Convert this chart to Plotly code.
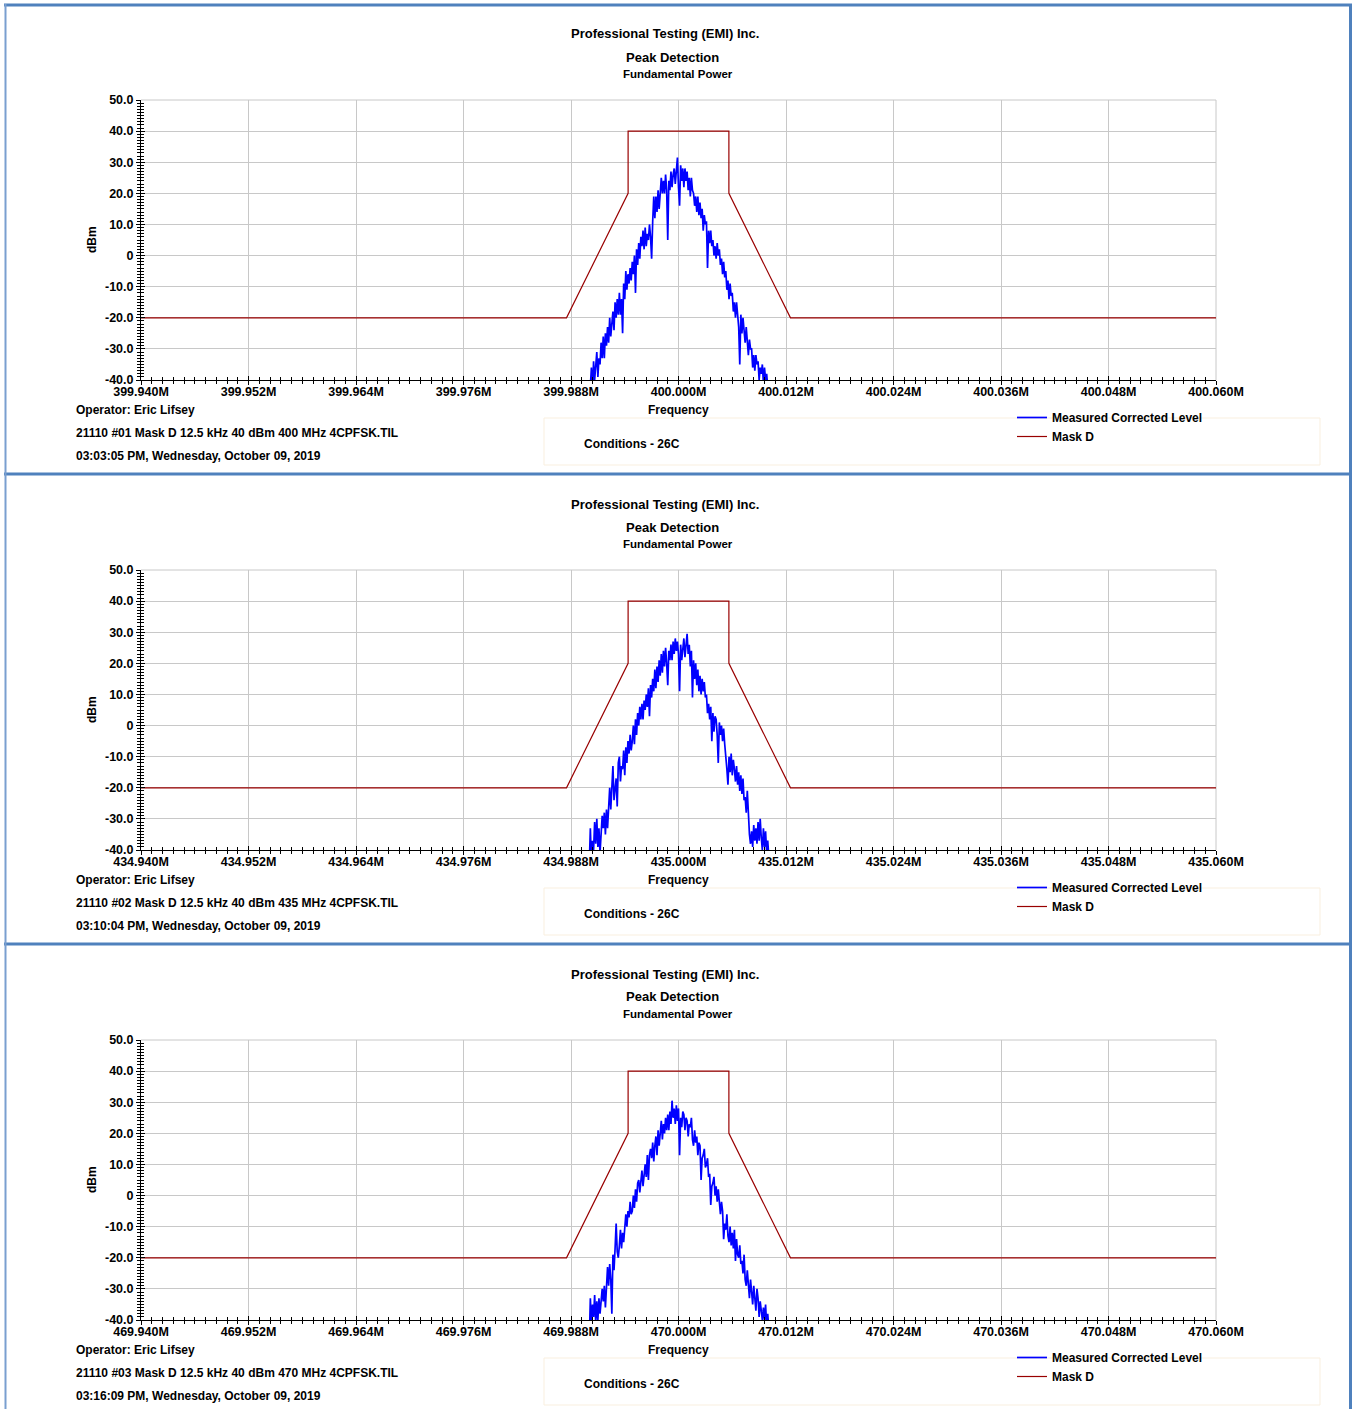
import plotly.graph_objects as go

W, H = 1353, 1409
PANEL_H = 470
FONT = "Liberation Sans, Arial, Helvetica, sans-serif"

# ---------------- data ----------------
center_mhz = [400.000, 435.000, 470.000]
trace_start_khz = -10.2
trace_step_khz = 0.12

level_1 = [
    -46, -43, -48, -42, -36, -44, -34, -40, -35, -31, -39, -33,
    -35, -28, -33, -26, -33, -25, -29, -23, -28, -20, -26, -22,
    -18, -24, -15, -20, -14, -19, -12, -19, -14, -25, -9, -14,
    -5, -11, -6, -9, -4, -8, -2, -6, 0, -12, 2, -3,
    4, -1, 6, 3, 8, 2, 9, 3, 7, 5, 10, 6,
    -1, 11, 19, 12, 19, 14, 21, 15, 20, 25, 20, 24,
    20, 26, 21, 5, 24, 21, 27, 22, 26, 28, 23, 27,
    31.5, 22, 16, 29, 24, 28, 22, 28, 24, 27, 21, 25,
    19, 25, 21, 20, 16, 19, 14, 19, 13, 17, 12, 15,
    8, 13, 10, 11, -4, 8, 4, 8, 3, 5, 0, 3,
    -1, 4, 0, 2, -3, -1, -6, -2, -7, -5, -11, -8,
    -14, -9, -13, -12, -18, -15, -20, -15, -19, -23, -35, -19,
    -25, -20, -24, -28, -23, -27, -32, -27, -30, -30, -36, -32,
    -37, -32, -35, -34, -40, -36, -38, -35, -41, -36, -40, -38,
    -44, -46, -48,
]
level_2 = [
    -46, -41, -45, -33, -44, -37, -40, -31, -38, -30, -39, -33,
    -41, -32, -29, -33, -28, -35, -27, -33, -25, -20, -27, -18,
    -13, -24, -19, -17, -26, -12, -10, -18, -13, -14, -8, -16,
    -7, -12, -5, -9, -3, -8, -5, 0, -6, 2, -3, 4,
    0, 6, 2, 7, 2, 8, 5, 10, 6, 12, 3, 13,
    9, 15, 11, 18, 12, 19, 14, 21, 16, 23, 17, 24,
    19, 25, 20, 13, 24, 21, 26, 21, 27, 23, 28, 24,
    27, 23, 11, 26, 21, 25, 28, 22, 27, 29.5, 23, 26,
    19, 24, 9, 21, 15, 20, 13, 18, 11, 16, 10, 15,
    11, 14, 9, 10, 4, 7, 2, 6, -5, 4, -2, 3,
    2, -3, -12, 1, -3, 0, -5, -1, -6, -9, -14, -19,
    -10, -15, -9, -16, -11, -14, -18, -13, -19, -15, -21, -16,
    -22, -17, -24, -23, -28, -21, -31, -35, -38, -34, -39, -32,
    -37, -33, -38, -31, -37, -30, -36, -40, -33, -39, -34, -41,
    -37, -45, -47,
]
level_3 = [
    -45, -43, -47, -33, -41, -35, -39, -32, -41, -34, -40, -33,
    -38, -32, -30, -34, -29, -36, -26, -23, -29, -22, -27, -38,
    -19, -24, -17, -9, -18, -20, -16, -11, -17, -12, -15, -9,
    -6, -10, -5, -7, -2, -6, -5, 0, -4, 2, -2, 4,
    5, 1, 6, 8, 3, 7, 10, 6, 13, 5, 13, 15,
    12, 17, 11, 16, 19, 13, 21, 16, 22, 24, 18, 23,
    20, 25, 21, 26, 21, 27, 23, 30.5, 25, 28, 23, 29,
    24, 28, 13, 25, 22, 27, 26, 21, 25, 24, 19, 23,
    22, 25, 18, 16, 21, 17, 19, 13, 17, 16, 5, 12,
    13, 15, 9, 10, 12, 6, 7, -3, 3, 4, 6, 0,
    3, -2, 2, -1, -6, -2, -5, -14, -9, -11, -6, -13,
    -15, -10, -16, -12, -17, -11, -21, -14, -19, -20, -16, -22,
    -21, -25, -19, -27, -29, -24, -30, -33, -27, -32, -35, -29,
    -34, -37, -30, -33, -39, -34, -37, -40, -36, -40, -35, -42,
    -38, -46, -47,
]
levels = [level_1, level_2, level_3]

mask_offset_khz = [-60, -12.5, -5.625, -5.625, 5.625, 5.625, 12.5, 60]
mask_level_dbm = [-20, -20, 20, 40, 40, 20, -20, -20]

x_tick_offset_khz = [-60, -48, -36, -24, -12, 0, 12, 24, 36, 48, 60]
y_tick_vals = [50, 40, 30, 20, 10, 0, -10, -20, -30, -40]
y_tick_text = ["50.0", "40.0", "30.0", "20.0", "10.0", "0",
               "-10.0", "-20.0", "-30.0", "-40.0"]

title_lines = ["Professional Testing (EMI) Inc.", "Peak Detection", "Fundamental Power"]
operator_label = "Operator: Eric Lifsey"
file_labels = [
    "21110 #01 Mask D 12.5 kHz 40 dBm 400 MHz 4CPFSK.TIL",
    "21110 #02 Mask D 12.5 kHz 40 dBm 435 MHz 4CPFSK.TIL",
    "21110 #03 Mask D 12.5 kHz 40 dBm 470 MHz 4CPFSK.TIL",
]
time_labels = [
    "03:03:05 PM, Wednesday, October 09, 2019",
    "03:10:04 PM, Wednesday, October 09, 2019",
    "03:16:09 PM, Wednesday, October 09, 2019",
]
conditions_label = "Conditions - 26C"
series_names = ["Measured Corrected Level", "Mask D"]
x_title = "Frequency"
y_title = "dBm"

BLUE = "#0000ff"
MASK = "#990000"
GRID = "#c8c8c8"
FRAME = "#4f81bd"


def px(x):
    return x / W


def py(y):
    return 1 - y / H


fig = go.Figure()
layout = dict(
    width=W, height=H,
    margin=dict(l=0, r=0, t=0, b=0, pad=0, autoexpand=False),
    autosize=False,
    paper_bgcolor="white", plot_bgcolor="white",
    font=dict(family=FONT, color="black"),
    showlegend=True,
)
annotations = []
shapes = []

for k in range(3):
    c = center_mhz[k]
    off = k * PANEL_H
    xs = "" if k == 0 else str(k + 1)
    ys = xs
    xo = str(k + 4)
    yo = str(k + 4)
    leg = "legend" if k == 0 else "legend" + str(k + 1)

    vals = levels[k]
    freqs = [c + (trace_start_khz + trace_step_khz * i) / 1000.0 for i in range(len(vals))]
    fig.add_trace(go.Scatter(
        x=freqs, y=vals, mode="lines", name=series_names[0],
        line=dict(color=BLUE, width=1.7), xaxis="x" + xs, yaxis="y" + ys,
        legend=leg, hoverinfo="skip",
    ))
    fig.add_trace(go.Scatter(
        x=[c + o / 1000.0 for o in mask_offset_khz], y=mask_level_dbm,
        mode="lines", name=series_names[1],
        line=dict(color=MASK, width=1.2), xaxis="x" + xs, yaxis="y" + ys,
        legend=leg, hoverinfo="skip",
    ))
    # helper empty traces so the overlay tick axes render
    fig.add_trace(go.Scatter(x=[], y=[], xaxis="x" + xo, yaxis="y" + ys,
                             showlegend=False, hoverinfo="skip"))
    fig.add_trace(go.Scatter(x=[], y=[], xaxis="x" + xs, yaxis="y" + yo,
                             showlegend=False, hoverinfo="skip"))

    xr = [c - 0.060, c + 0.060]
    tv = [c + o / 1000.0 for o in x_tick_offset_khz]
    tt = ["%.3fM" % v for v in tv]
    dom_y = [py(380 + off), py(100 + off)]

    # main axes: labels + inner half of the crossing ticks
    layout["xaxis" + xs] = dict(
        domain=[px(141), px(1216)], anchor="y" + ys, range=xr, automargin=False,
        tickmode="array", tickvals=tv, ticktext=tt,
        ticks="inside", ticklen=4, tickwidth=1, tickcolor="black",
        showline=True, linecolor="black", linewidth=1,
        showgrid=True, gridcolor=GRID, gridwidth=1, zeroline=False,
        tickfont=dict(family=FONT, size=12.5, color="black", weight="bold"),
        minor=dict(tick0=xr[0], dtick=0.0012, ticks="inside", ticklen=3,
                   tickcolor="black", tickwidth=1, showgrid=False),
        fixedrange=True,
    )
    # overlay axes: outer half of the crossing ticks
    layout["xaxis" + xo] = dict(
        overlaying="x" + xs, anchor="y" + ys, range=xr, side="bottom", automargin=False,
        tickmode="array", tickvals=tv, showticklabels=False,
        ticks="outside", ticklen=4, tickwidth=1, tickcolor="black",
        showline=False, showgrid=False, zeroline=False,
        minor=dict(tick0=xr[0], dtick=0.0012, ticks="outside", ticklen=3,
                   tickcolor="black", tickwidth=1, showgrid=False),
        fixedrange=True,
    )
    layout["yaxis" + ys] = dict(
        domain=dom_y, anchor="x" + xs, range=[-40, 50], automargin=False,
        tickmode="array", tickvals=y_tick_vals, ticktext=y_tick_text,
        ticks="inside", ticklen=4, tickwidth=1, tickcolor="black",
        ticklabelstandoff=4,
        showline=True, linecolor="black", linewidth=1,
        showgrid=True, gridcolor=GRID, gridwidth=1, zeroline=False,
        tickfont=dict(family=FONT, size=12.5, color="black", weight="bold"),
        minor=dict(tick0=-40, dtick=1, ticks="inside", ticklen=3,
                   tickcolor="black", tickwidth=1, showgrid=False),
        fixedrange=True,
    )
    layout["yaxis" + yo] = dict(
        overlaying="y" + ys, anchor="x" + xs, range=[-40, 50], side="left", automargin=False,
        tickmode="array", tickvals=y_tick_vals, showticklabels=False,
        ticks="outside", ticklen=4, tickwidth=1, tickcolor="black",
        showline=False, showgrid=False, zeroline=False,
        minor=dict(tick0=-40, dtick=1, ticks="outside", ticklen=3,
                   tickcolor="black", tickwidth=1, showgrid=False),
        fixedrange=True,
    )

    layout[leg] = dict(
        x=px(1012), y=py(403 + off), xanchor="left", yanchor="top",
        bgcolor="rgba(0,0,0,0)", borderwidth=0, itemwidth=30,
        font=dict(family=FONT, size=12, color="black", weight="bold"),
        tracegroupgap=0, itemclick=False, itemdoubleclick=False,
    )

    # plot area top/right border
    shapes.append(dict(type="line", xref="paper", yref="paper",
                       x0=px(141), x1=px(1216), y0=py(100 + off), y1=py(100 + off),
                       line=dict(color=GRID, width=1), layer="below"))
    shapes.append(dict(type="line", xref="paper", yref="paper",
                       x0=px(1216), x1=px(1216), y0=py(100 + off), y1=py(380 + off),
                       line=dict(color=GRID, width=1), layer="below"))
    # faint legend / conditions box
    shapes.append(dict(type="rect", xref="paper", yref="paper",
                       x0=px(544), x1=px(1320), y0=py(465 + off), y1=py(418 + off),
                       line=dict(color="#f9efdf", width=1), layer="below"))

    def ann(text, x, y, size, xanchor="center", angle=0):
        annotations.append(dict(
            text="<b>%s</b>" % text, x=px(x), y=py(y), xref="paper", yref="paper",
            xanchor=xanchor, yanchor="middle", showarrow=False, textangle=angle,
            font=dict(family=FONT, size=size, color="black"),
        ))

    ann(title_lines[0], 664.5, 34 + off, 13)
    ann(title_lines[1], 672.5, 57 + off, 13)
    ann(title_lines[2], 678, 74 + off, 11.5)
    ann(x_title, 678, 410 + off, 12)
    ann(y_title, 92, 240 + off, 12, angle=-90)
    ann(operator_label, 74, 410 + off, 12, xanchor="left")
    ann(file_labels[k], 74, 433 + off, 12, xanchor="left")
    ann(time_labels[k], 74, 456 + off, 12, xanchor="left")
    ann(conditions_label, 582, 444 + off, 12, xanchor="left")

# outer frame
for yline in [5, 474, 944]:
    shapes.append(dict(type="line", xref="paper", yref="paper",
                       x0=px(4), x1=px(1352), y0=py(yline), y1=py(yline),
                       line=dict(color=FRAME, width=3)))
shapes.append(dict(type="line", xref="paper", yref="paper",
                   x0=px(5.5), x1=px(5.5), y0=py(4), y1=0,
                   line=dict(color="#7a9fd0", width=2)))
shapes.append(dict(type="line", xref="paper", yref="paper",
                   x0=px(1350.5), x1=px(1350.5), y0=py(4), y1=0,
                   line=dict(color=FRAME, width=3)))

layout["annotations"] = annotations
layout["shapes"] = shapes
fig.update_layout(**layout)
fig.write_html("out.html")
